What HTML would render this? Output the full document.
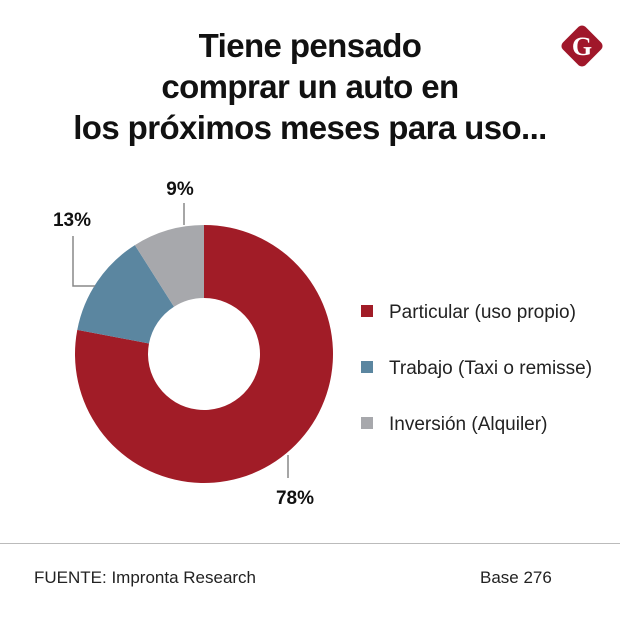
<!DOCTYPE html>
<html><head><meta charset="utf-8"><style>
body{margin:0;width:620px;height:617px;background:#fff;font-family:"Liberation Sans",sans-serif;position:relative;overflow:hidden}
.t{position:absolute;left:0;width:620px;text-align:center;font-weight:bold;font-size:33px;color:#111;letter-spacing:-0.6px}
</style></head><body>
<div class="t" style="top:25px;line-height:41px">Tiene pensado<br>comprar un auto en<br>los próximos meses para uso...</div>
<svg width="620" height="617" style="position:absolute;left:0;top:0">
<rect x="566" y="30" width="32" height="32" rx="5" fill="#a0172a" transform="rotate(45 582 46)"/>
<text x="582" y="55" text-anchor="middle" font-size="26" font-weight="bold" fill="#fff" font-family="Liberation Serif,serif">G</text>
</svg>
<svg id="c" width="620" height="617" style="position:absolute;left:0;top:0"></svg>
<div style="position:absolute;left:0;top:543px;width:620px;height:1px;background:#bbb"></div>
<div style="position:absolute;left:34px;top:568px;font-size:17px;color:#222">FUENTE: Impronta Research</div>
<div style="position:absolute;left:480px;top:568px;font-size:17px;color:#222">Base 276</div>
<script>
const categories=["Particular (uso propio)","Trabajo (Taxi o remisse)","Inversión (Alquiler)"];
const values=[78,13,9];
const labels=["78%","13%","9%"];
const colors=["#a11c27","#5b86a0","#a7a8ac"];
const NS="http://www.w3.org/2000/svg",svg=document.getElementById('c');
const cx=204,cy=354,R=129,r=56;
function mk(t,a){const e=document.createElementNS(NS,t);for(const k in a)e.setAttribute(k,a[k]);svg.appendChild(e);return e;}
function pt(rad,ang){return [cx+rad*Math.sin(ang),cy-rad*Math.cos(ang)];}
const tot=values.reduce((a,b)=>a+b,0);let a0=0;
values.forEach((v,i)=>{const a1=a0+v/tot*2*Math.PI;const L=(a1-a0)>Math.PI?1:0;
const [x0,y0]=pt(R,a0),[x1,y1]=pt(R,a1),[x2,y2]=pt(r,a1),[x3,y3]=pt(r,a0);
const p=mk('path',{d:`M${x0},${y0}A${R},${R} 0 ${L} 1 ${x1},${y1}L${x2},${y2}A${r},${r} 0 ${L} 0 ${x3},${y3}Z`,fill:colors[i]});


a0=a1;});
const lead=[[[288,455],[288,478]],[[73,236],[73,286],[95,286]],[[184,203],[184,225]]];
const lp=[[295,504],[72,226],[180,195]];
values.forEach((v,i)=>{const l=mk('polyline',{points:lead[i].map(p=>p.join(',')).join(' '),fill:'none',stroke:'#888','stroke-width':1.5});


const t=mk('text',{x:lp[i][0],y:lp[i][1],'text-anchor':'middle','font-size':19,'font-weight':'bold',fill:'#111'});t.textContent=labels[i];

});
categories.forEach((c,i)=>{const y=311+i*56;
const s=mk('rect',{x:361,y:y-6,width:12,height:12,fill:colors[i]});


const t=mk('text',{x:389,y:y+7,'font-size':19,fill:'#222'});t.textContent=c;

});
</script>
</body></html>
